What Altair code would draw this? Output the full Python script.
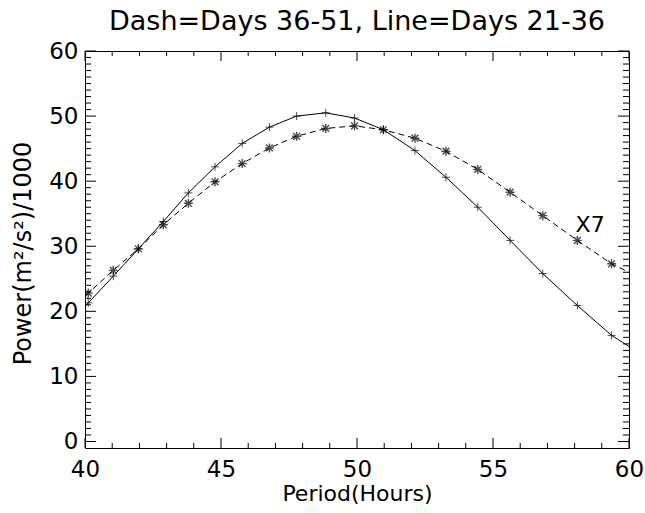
import altair as alt
import pandas as pd

# ---- data ----
period = [39.2, 40.12, 41.04, 41.96, 42.88, 43.80, 44.78, 45.78, 46.78, 47.78, 48.85,
          49.91, 50.97, 52.13, 53.27, 54.44, 55.63, 56.83, 58.10, 59.36, 60.65]
line_power = [17.2, 21.3, 25.4, 29.6, 33.8, 38.2, 42.2, 45.8, 48.3, 50.0, 50.5,
              49.7, 47.9, 44.7, 40.6, 36.0, 30.9, 25.8, 20.9, 16.3, 12.9]
dash_power = [19.3, 22.8, 26.3, 29.6, 33.3, 36.6, 39.9, 42.7, 45.1, 46.9, 48.1,
              48.5, 47.9, 46.6, 44.6, 41.8, 38.3, 34.7, 30.9, 27.3, 24.7]

x_major = [40, 45, 50, 55, 60]
x_minor = [v for v in range(41, 60) if v % 5 != 0]
y_major = [0, 10, 20, 30, 40, 50, 60]
y_minor = [v for v in range(1, 60) if v % 10 != 0]

title_text = ["Dash=Days 36-51, Line=Days 21-36"]
x_title = "Period(Hours)"
y_title = "Power(m²/s²)/1000"
note_text = ["X7"]
note_x = [58.57]
note_y = [33.3]

W, H = 544, 397
FONT = "DejaVu Sans"

xs = alt.Scale(domain=[40, 60], nice=False, zero=False)
ys = alt.Scale(domain=[-1, 60], nice=False, zero=False)

df_line = pd.DataFrame({"period": period, "power": line_power})
df_dash = pd.DataFrame({"period": period, "power": dash_power})

xaxis = alt.Axis(values=x_major, ticks=False, domain=False, grid=False, labelFlush=False,
                 labelOverlap=False,
                 labelFontSize=23, labelPadding=10, labelColor="black", labelFont=FONT,
                 title=x_title, titleFontSize=22, titleFont=FONT, titleFontWeight="normal",
                 titleColor="black", titleY=52, titleBaseline="alphabetic")
yaxis = alt.Axis(values=y_major, ticks=False, domain=False, grid=False, labelFlush=False,
                 labelOverlap=False,
                 labelFontSize=23, labelPadding=7, labelColor="black", labelFont=FONT,
                 title=y_title, titleFontSize=24, titleFont=FONT, titleFontWeight="normal",
                 titleColor="black", titleAngle=-90, titleX=-55, titleY=202,
                 titleAlign="center", titleBaseline="alphabetic")

def X(field):
    return alt.X(field, scale=xs, axis=xaxis)

def Y(field):
    return alt.Y(field, scale=ys, axis=yaxis)

solid = alt.Chart(df_line).mark_line(color="black", strokeWidth=1, clip=True).encode(
    x=X("period:Q"), y=Y("power:Q"))
dashed = alt.Chart(df_dash).mark_line(color="black", strokeWidth=1, strokeDash=[6, 4], clip=True).encode(
    x=X("period:Q"), y=Y("power:Q"))
plus_pts = alt.Chart(df_line).mark_point(
    shape="M-1,0L1,0M0,-1L0,1", filled=False, size=64, color="black", strokeWidth=1, clip=True
).encode(x=X("period:Q"), y=Y("power:Q"))
star_pts = alt.Chart(df_dash).mark_point(
    shape="M-1,0L1,0M0,-1L0,1M-0.75,-0.75L0.75,0.75M-0.75,0.75L0.75,-0.75",
    filled=False, size=81, color="black", strokeWidth=1.4, clip=True
).encode(x=X("period:Q"), y=Y("power:Q"))

note = alt.Chart(pd.DataFrame({"period": note_x, "power": note_y, "t": note_text})).mark_text(
    font=FONT, fontSize=22, color="black", align="center", baseline="middle"
).encode(x=X("period:Q"), y=Y("power:Q"), text="t:N")

# chart title as a text mark above the plot box
title = alt.Chart(pd.DataFrame({"t": title_text})).mark_text(
    font=FONT, fontSize=27, color="black", align="center", baseline="alphabetic"
).encode(x=alt.value(W / 2), y=alt.value(-21), text="t:N")

# inward tick marks on all four sides
dfxM = pd.DataFrame({"period": x_major})
dfxm = pd.DataFrame({"period": x_minor})
dfyM = pd.DataFrame({"power": y_major})
dfym = pd.DataFrame({"power": y_minor})

def xticks(df, length):
    bottom = alt.Chart(df).mark_rule(color="black", strokeWidth=1).encode(
        x=X("period:Q"), y=alt.value(H), y2=alt.value(H - length))
    top = alt.Chart(df).mark_rule(color="black", strokeWidth=1).encode(
        x=X("period:Q"), y=alt.value(0), y2=alt.value(length))
    return [bottom, top]

def yticks(df, length):
    left = alt.Chart(df).mark_rule(color="black", strokeWidth=1).encode(
        y=Y("power:Q"), x=alt.value(0), x2=alt.value(length))
    right = alt.Chart(df).mark_rule(color="black", strokeWidth=1).encode(
        y=Y("power:Q"), x=alt.value(W), x2=alt.value(W - length))
    return [left, right]

layers = [solid, dashed, plus_pts, star_pts, note, title]
layers += xticks(dfxM, 10) + xticks(dfxm, 5) + yticks(dfyM, 11) + yticks(dfym, 6)

chart = alt.layer(*layers).properties(
    width=W, height=H,
    autosize=alt.AutoSizeParams(type="none"),
    padding={"left": 85, "top": 51, "right": 16, "bottom": 65},
    background="white",
).configure_view(stroke="black", strokeWidth=1)

chart.save("out.html", embed_options={"renderer": "svg", "actions": False})
